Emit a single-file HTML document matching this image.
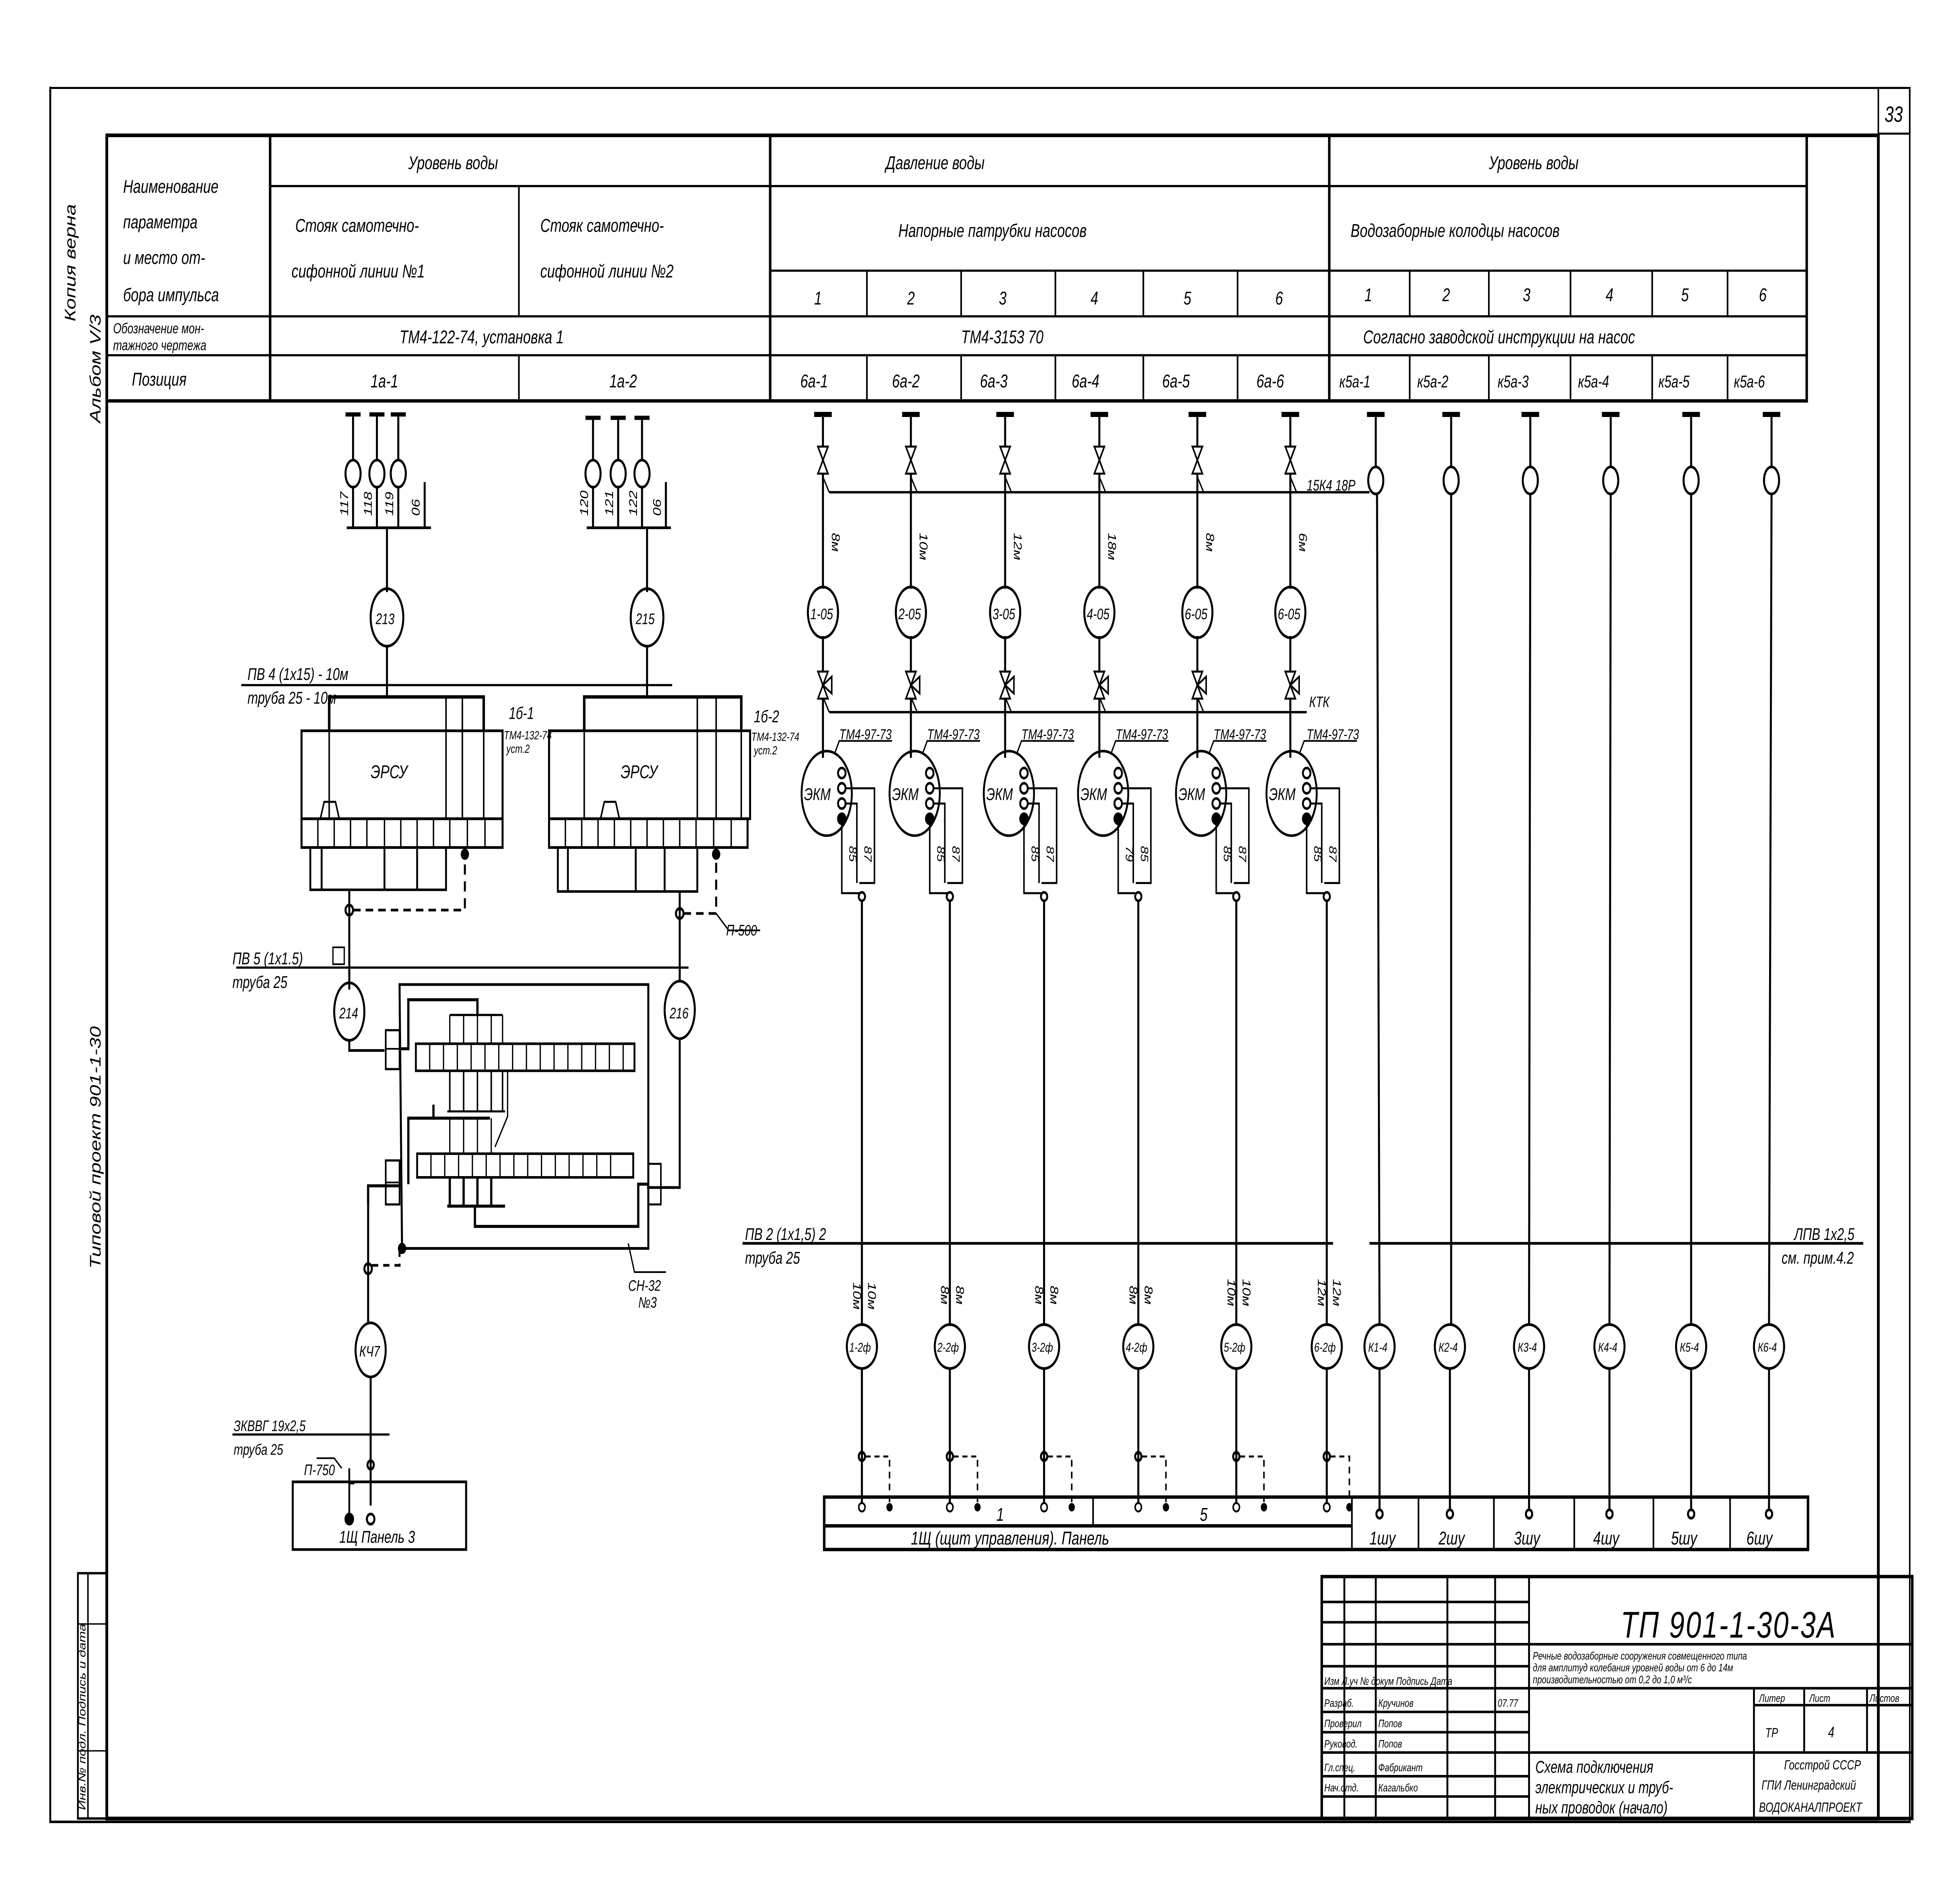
<!DOCTYPE html>
<html><head><meta charset="utf-8">
<style>
html,body{margin:0;padding:0;background:#fff;width:100%;height:100%;overflow:hidden;}
svg{display:block;position:fixed;left:0;top:0;width:100vw;height:100vh;}
text{font-family:"Liberation Sans","DejaVu Sans",sans-serif;font-style:italic;fill:#000;}
</style></head>
<body>
<svg viewBox="0 0 1560 1122" preserveAspectRatio="none" xmlns="http://www.w3.org/2000/svg">
<rect x="0" y="0" width="1560" height="1122" fill="#fff"/>
<g stroke="#000" fill="none" stroke-width="1.6" stroke-linecap="square">
<path d="M40 52 L1520 52 L1520 1077" stroke-width="1.2"/>
<path d="M40 52 L40 1077 L1520 1077" stroke-width="1.5"/>
<path d="M85 80 L1495 80 L1495 1075 L85 1075 Z" stroke-width="2.2"/>
<rect x="1495" y="52" width="25" height="27" stroke-width="1.2"/>
<rect x="62" y="930" width="23" height="145" stroke-width="1.4"/>
<line x1="70" y1="930" x2="70" y2="1075" stroke-width="1.2"/>
<line x1="62" y1="960" x2="85" y2="960" stroke-width="0.8"/>
<line x1="62" y1="1035" x2="85" y2="1035" stroke-width="0.8"/>

<path d="M85 237 L1438 237 M1438 80 L1438 237 M215 80 L215 237 M613 80 L613 237 M1058 80 L1058 237" stroke-width="2"/>
<path d="M215 110 L1438 110 M613 160 L1438 160 M85 187 L1438 187 M85 210 L1438 210" stroke-width="1.3"/>
<path d="M413 110 L413 187 M413 210 L413 237" stroke-width="1.3"/>
<path d="M690 160 L690 187 M765 160 L765 187 M840 160 L840 187 M910 160 L910 187 M985 160 L985 187
M690 210 L690 237 M765 210 L765 237 M840 210 L840 237 M910 210 L910 237 M985 210 L985 237
M1122 160 L1122 187 M1185 160 L1185 187 M1250 160 L1250 187 M1315 160 L1315 187 M1375 160 L1375 187
M1122 210 L1122 237 M1185 210 L1185 237 M1250 210 L1250 237 M1315 210 L1315 237 M1375 210 L1375 237" stroke-width="1.3"/>
</g>

<g font-size="11">
<text x="98" y="114">Наименование</text>
<text x="98" y="135">параметра</text>
<text x="98" y="156">и место от-</text>
<text x="98" y="178">бора импульса</text>
<text x="90" y="197" font-size="8.5">Обозначение мон-</text>
<text x="90" y="207" font-size="8.5">тажного чертежа</text>
<text x="105" y="228">Позиция</text>
<text x="325" y="100">Уровень воды</text>
<text x="705" y="100">Давление воды</text>
<text x="1185" y="100">Уровень воды</text>
<text x="235" y="137">Стояк самотечно-</text>
<text x="232" y="164">сифонной линии №1</text>
<text x="430" y="137">Стояк самотечно-</text>
<text x="430" y="164">сифонной линии №2</text>
<text x="715" y="140">Напорные патрубки насосов</text>
<text x="1075" y="140">Водозаборные колодцы насосов</text>
<text x="318" y="203">ТМ4-122-74, установка 1</text>
<text x="765" y="203">ТМ4-3153 70</text>
<text x="1085" y="203">Согласно заводской инструкции на насос</text>
<text x="295" y="229">1а-1</text>
<text x="485" y="229">1а-2</text>
<text x="637" y="229">6а-1</text><text x="710" y="229">6а-2</text><text x="780" y="229">6а-3</text><text x="853" y="229">6а-4</text><text x="925" y="229">6а-5</text><text x="1000" y="229">6а-6</text>
<text x="1066" y="229" font-size="10">к5а-1</text><text x="1128" y="229" font-size="10">к5а-2</text><text x="1192" y="229" font-size="10">к5а-3</text><text x="1256" y="229" font-size="10">к5а-4</text><text x="1320" y="229" font-size="10">к5а-5</text><text x="1380" y="229" font-size="10">к5а-6</text>
<text x="648" y="180">1</text><text x="722" y="180">2</text><text x="795" y="180">3</text><text x="868" y="180">4</text><text x="942" y="180">5</text><text x="1015" y="180">6</text>
<text x="1086" y="178">1</text><text x="1148" y="178">2</text><text x="1212" y="178">3</text><text x="1278" y="178">4</text><text x="1338" y="178">5</text><text x="1400" y="178">6</text>
<text x="1500" y="72" font-size="13" font-style="normal">33</text>
</g>
<g font-size="12">
<text transform="translate(60,190) rotate(-90)">Копия верна</text>
<text transform="translate(80,250) rotate(-90)">Альбом  V/3</text>
<text transform="translate(80,750) rotate(-90)">Типовой проект   901-1-30</text>
<text transform="translate(68,1070) rotate(-90)" font-size="8">Инв.№ подл.  Подпись и дата</text>
</g>

<g stroke="#000" fill="none" stroke-width="1.6">
<path d="M275 245 L287 245 M294 245 L306 245 M311 245 L323 245" stroke-width="2.5"/>
<path d="M281 245 L281 272 M300 245 L300 272 M317 245 L317 272"/>
<ellipse cx="281" cy="280" rx="6" ry="8"/><ellipse cx="300" cy="280" rx="6" ry="8"/><ellipse cx="317" cy="280" rx="6" ry="8"/>
<path d="M281 288 L281 312 M300 288 L300 312 M317 288 L317 312 M338 285 L338 312 M276 312 L343 312 M308 312 L308 350"/>
<ellipse cx="308" cy="365" rx="13" ry="17"/>
<path d="M308 382 L308 413"/>
<path d="M466 247 L478 247 M486 247 L498 247 M505 247 L517 247" stroke-width="2.5"/>
<path d="M472 247 L472 272 M492 247 L492 272 M511 247 L511 272"/>
<ellipse cx="472" cy="280" rx="6" ry="8"/><ellipse cx="492" cy="280" rx="6" ry="8"/><ellipse cx="511" cy="280" rx="6" ry="8"/>
<path d="M472 288 L472 312 M492 288 L492 312 M511 288 L511 312 M530 285 L530 312 M467 312 L534 312 M515 312 L515 350"/>
<ellipse cx="515" cy="365" rx="13" ry="17"/>
<path d="M515 382 L515 413"/>
<path d="M192 405 L535 405" stroke-width="1.3"/>
<path d="M262 432 L262 412 L385 412 L385 432" stroke-width="2"/>
<path d="M355 412 L355 432 M368 412 L368 432" stroke-width="1.2"/>
<rect x="240" y="432" width="160" height="52" stroke-width="1.6"/>
<path d="M262 432 L262 484 M355 432 L355 484 M368 432 L368 484 M385 432 L385 484" stroke-width="1.2"/>
<path d="M255 484 L258 474 L267 474 L270 484" stroke-width="1.2"/>
<rect x="240" y="484" width="160" height="17" stroke-width="1.6"/>
<path d="M253 484 L253 501 M266 484 L266 501 M279 484 L279 501 M292 484 L292 501 M306 484 L306 501 M319 484 L319 501 M332 484 L332 501 M345 484 L345 501 M358 484 L358 501 M372 484 L372 501 M386 484 L386 501" stroke-width="1.1"/>
<path d="M247 501 L247 526 L355 526 L355 501 M256 501 L256 526 M306 501 L306 526 M332 501 L332 526" stroke-width="1.5"/>
<path d="M278 526 L278 585" stroke-width="1.6"/>
<circle cx="278" cy="538" r="3"/>
<path d="M281 538 L370 538 L370 503" stroke-dasharray="6 4"/>
<circle cx="370" cy="505" r="2.5" fill="#000"/>
<path d="M465 432 L465 412 L590 412 L590 432" stroke-width="2"/>
<path d="M555 412 L555 432 M570 412 L570 432" stroke-width="1.2"/>
<rect x="437" y="432" width="160" height="52" stroke-width="1.6"/>
<path d="M465 432 L465 484 M555 432 L555 484 M570 432 L570 484 M590 432 L590 484" stroke-width="1.2"/>
<path d="M478 484 L481 474 L490 474 L493 484" stroke-width="1.2"/>
<rect x="437" y="484" width="158" height="17" stroke-width="1.6"/>
<path d="M450 484 L450 501 M463 484 L463 501 M476 484 L476 501 M489 484 L489 501 M502 484 L502 501 M515 484 L515 501 M528 484 L528 501 M541 484 L541 501 M554 484 L554 501 M568 484 L568 501 M582 484 L582 501" stroke-width="1.1"/>
<path d="M444 501 L444 527 L555 527 L555 501 M452 501 L452 527 M506 501 L506 527 M529 501 L529 527" stroke-width="1.5"/>
<path d="M541 527 L541 580" stroke-width="1.6"/>
<circle cx="541" cy="540" r="3"/>
<path d="M544 540 L570 540 L570 503" stroke-dasharray="6 4"/>
<circle cx="570" cy="505" r="2.5" fill="#000"/>
<path d="M570 540 L580 550 L605 550" stroke-width="1"/>
<path d="M188 572 L548 572" stroke-width="1.3"/>
<rect x="265" y="560" width="9" height="10" stroke-width="1"/>
<path d="M278 572 L278 580"/>
<ellipse cx="278" cy="598" rx="12" ry="17"/>
<path d="M278 615 L278 621 L306 621"/>
<ellipse cx="541" cy="597" rx="12" ry="17"/>
<path d="M541 614 L541 702 L515 702"/>
<path d="M318 582 L516 582 L516 738 L320 738 Z" stroke-width="1.6"/>
<rect x="307" y="609" width="11" height="23" stroke-width="1.3"/>
<line x1="307" y1="620" x2="318" y2="620" stroke-width="1"/>
<rect x="307" y="686" width="11" height="26" stroke-width="1.3"/>
<line x1="307" y1="699" x2="318" y2="699" stroke-width="1"/>
<path d="M318 620 L325 620 L325 591 L380 591 L380 600" stroke-width="1.8"/>
<path d="M358 600 L400 600" stroke-width="1.3"/>
<rect x="331" y="617" width="174" height="16" stroke-width="1.5"/>
<path d="M342 617 L342 633 M353 617 L353 633 M364 617 L364 633 M375 617 L375 633 M386 617 L386 633 M397 617 L397 633 M408 617 L408 633 M419 617 L419 633 M430 617 L430 633 M441 617 L441 633 M452 617 L452 633 M463 617 L463 633 M474 617 L474 633 M485 617 L485 633 M496 617 L496 633" stroke-width="1"/>
<path d="M358 600 L358 617 M369 600 L369 617 M380 600 L380 617 M391 600 L391 617 M400 600 L400 617" stroke-width="1"/>
<path d="M358 633 L358 657 M369 633 L369 657 M380 633 L380 657 M391 633 L391 657 M400 633 L400 657 M356 657 L402 657" stroke-width="1.2"/>
<path d="M325 700 L325 661 L345 661 L345 653 M345 661 L390 661" stroke-width="1.8"/>
<path d="M358 661 L358 682 M369 661 L369 682 M380 661 L380 682 M391 661 L391 682" stroke-width="1"/>
<rect x="332" y="682" width="172" height="14" stroke-width="1.5"/>
<path d="M343 682 L343 696 M354 682 L354 696 M365 682 L365 696 M376 682 L376 696 M387 682 L387 696 M398 682 L398 696 M409 682 L409 696 M420 682 L420 696 M431 682 L431 696 M442 682 L442 696 M453 682 L453 696 M464 682 L464 696 M475 682 L475 696 M486 682 L486 696" stroke-width="1"/>
<path d="M358 696 L358 713 M369 696 L369 713 M380 696 L380 713 M391 696 L391 713 M356 713 L402 713 M378 713 L378 725 L508 725 L508 700 L516 700" stroke-width="1.8"/>
<rect x="516" y="688" width="10" height="24" stroke-width="1.2"/>
<path d="M404 633 L404 660 L394 678" stroke-width="1"/>
<path d="M293 712 L293 701 L318 701" stroke-width="1.8"/>
<path d="M293 701 L293 782" stroke-width="1.6"/>
<circle cx="293" cy="750" r="3"/>
<path d="M296 748 L318 748 L318 738" stroke-dasharray="5 4"/>
<circle cx="320" cy="738" r="2.5" fill="#000"/>
<path d="M500 735 L505 752 L530 752" stroke-width="1"/>
<ellipse cx="295" cy="798" rx="12" ry="16"/>
<path d="M295 814 L295 890" stroke-width="1.6"/>
<path d="M185 848 L310 848" stroke-width="1.3"/>
<path d="M252 862 L266 862 L272 868" stroke-width="1"/>
<path d="M278 868 L278 877 M278 877 L284 877" stroke-dasharray="4 3" stroke-width="1"/>
<circle cx="295" cy="866" r="2.5"/>
<rect x="233" y="876" width="138" height="40" stroke-width="1.6"/>
<line x1="278" y1="868" x2="278" y2="896" stroke-width="1.4"/>
<circle cx="278" cy="898" r="3" fill="#000"/>
<circle cx="295" cy="898" r="3"/>
</g>
<g font-size="9">
<text transform="translate(277,305) rotate(-90)">117</text>
<text transform="translate(296,305) rotate(-90)">118</text>
<text transform="translate(313,305) rotate(-90)">119</text>
<text transform="translate(334,305) rotate(-90)">06</text>
<text transform="translate(468,305) rotate(-90)">120</text>
<text transform="translate(488,305) rotate(-90)">121</text>
<text transform="translate(507,305) rotate(-90)">122</text>
<text transform="translate(526,305) rotate(-90)">06</text>
<text x="299" y="369">213</text>
<text x="506" y="369">215</text>
<text x="270" y="602">214</text>
<text x="533" y="602">216</text>
<text x="286" y="802">КЧ7</text>
<text x="197" y="402" font-size="10">ПВ 4 (1х15) - 10м</text>
<text x="197" y="416" font-size="10">труба 25   - 10м</text>
<text x="295" y="460" font-size="11">ЭРСУ</text>
<text x="494" y="460" font-size="11">ЭРСУ</text>
<text x="405" y="425" font-size="10">1б-1</text>
<text x="401" y="437" font-size="7">ТМ4-132-74</text>
<text x="403" y="445" font-size="7">уст.2</text>
<text x="600" y="427" font-size="10">1б-2</text>
<text x="598" y="438" font-size="7">ТМ4-132-74</text>
<text x="600" y="446" font-size="7">уст.2</text>
<text x="185" y="570" font-size="10">ПВ 5 (1х1.5)</text>
<text x="185" y="584" font-size="10">труба 25</text>
<text x="578" y="553" font-size="9">П-500</text>
<text x="500" y="763" font-size="9">СН-32</text>
<text x="508" y="773" font-size="9">№3</text>
<text x="186" y="846" font-size="9">ЗКВВГ  19х2,5</text>
<text x="186" y="860" font-size="9">труба 25</text>
<text x="242" y="872" font-size="9">П-750</text>
<text x="270" y="912" font-size="10">1Щ  Панель 3</text>
</g>

<g stroke="#000" fill="none" stroke-width="1.6">
<path d="M648 245 L662 245 M718 245 L732 245 M793 245 L807 245 M868 245 L882 245 M946 245 L960 245 M1020 245 L1034 245 M1088 245 L1102 245 M1148 245 L1162 245 M1211 245 L1225 245 M1275 245 L1289 245 M1339 245 L1353 245 M1403 245 L1417 245" stroke-width="3"/>
<path d="M655 245 L655 348 M725 245 L725 348 M800 245 L800 348 M875 245 L875 348 M953 245 L953 348 M1027 245 L1027 348"/>
<path d="M655 376 L655 448 M725 376 L725 448 M800 376 L800 448 M875 376 L875 448 M953 376 L953 448 M1027 376 L1027 448"/>
<path d="M660 291 L1090 291 M660 421 L1040 421" stroke-width="1.4"/>
<path d="M655 282 L660 291 M725 282 L730 291 M800 282 L805 291 M875 282 L880 291 M953 282 L958 291 M1027 282 L1032 291
M655 412 L660 421 M725 412 L730 421 M800 412 L805 421 M875 412 L880 421 M953 412 L958 421 M1027 412 L1027 421" stroke-width="1"/>
</g>
<g fill="#fff" stroke="#000" stroke-width="1.2">
<path d="M651 264 L659 264 L655 272 Z M651 280 L659 280 L655 272 Z"/>
<path d="M721 264 L729 264 L725 272 Z M721 280 L729 280 L725 272 Z"/>
<path d="M796 264 L804 264 L800 272 Z M796 280 L804 280 L800 272 Z"/>
<path d="M871 264 L879 264 L875 272 Z M871 280 L879 280 L875 272 Z"/>
<path d="M949 264 L957 264 L953 272 Z M949 280 L957 280 L953 272 Z"/>
<path d="M1023 264 L1031 264 L1027 272 Z M1023 280 L1031 280 L1027 272 Z"/>
<path d="M651 397 L659 397 L655 405 Z M651 413 L659 413 L655 405 Z M655 405 L662 400 L662 410 Z"/>
<path d="M721 397 L729 397 L725 405 Z M721 413 L729 413 L725 405 Z M725 405 L732 400 L732 410 Z"/>
<path d="M796 397 L804 397 L800 405 Z M796 413 L804 413 L800 405 Z M800 405 L807 400 L807 410 Z"/>
<path d="M871 397 L879 397 L875 405 Z M871 413 L879 413 L875 405 Z M875 405 L882 400 L882 410 Z"/>
<path d="M949 397 L957 397 L953 405 Z M949 413 L957 413 L953 405 Z M953 405 L960 400 L960 410 Z"/>
<path d="M1023 397 L1031 397 L1027 405 Z M1023 413 L1031 413 L1027 405 Z M1027 405 L1034 400 L1034 410 Z"/>
</g>
<g stroke="#000" fill="none" stroke-width="1.6">
<ellipse cx="655" cy="362" rx="12" ry="15"/><ellipse cx="725" cy="362" rx="12" ry="15"/><ellipse cx="800" cy="362" rx="12" ry="15"/><ellipse cx="875" cy="362" rx="12" ry="15"/><ellipse cx="953" cy="362" rx="12" ry="15"/><ellipse cx="1027" cy="362" rx="12" ry="15"/>
</g>
<g font-size="9">
<text x="645" y="366">1-05</text><text x="715" y="366">2-05</text><text x="790" y="366">3-05</text><text x="865" y="366">4-05</text><text x="943" y="366">6-05</text><text x="1017" y="366">6-05</text>
<text transform="translate(662,315) rotate(90)">8м</text>
<text transform="translate(732,315) rotate(90)">10м</text>
<text transform="translate(807,315) rotate(90)">12м</text>
<text transform="translate(882,315) rotate(90)">18м</text>
<text transform="translate(960,315) rotate(90)">8м</text>
<text transform="translate(1034,315) rotate(90)">6м</text>
<text x="1040" y="290">15К4 18Р</text>
<text x="1042" y="418">КТК</text>
</g>
<g id="ekm" stroke="#000" fill="none" stroke-width="1.5">
<ellipse cx="658" cy="469" rx="20" ry="25"/>
<circle cx="670" cy="457" r="3"/><circle cx="670" cy="466" r="3"/><circle cx="670" cy="475" r="3"/><circle cx="670" cy="484" r="3" fill="#000"/>
<path d="M673 466 L696 466 L696 522 L684 522 M673 475 L682 475 L682 522 M670 487 L670 528 L684 528" stroke-width="1.2"/>
<circle cx="686" cy="530" r="2.5"/>
<path d="M664 446 L668 438 L710 438" stroke-width="1"/>
</g>
<use href="#ekm" transform="translate(70,0)"/>
<use href="#ekm" transform="translate(145,0)"/>
<use href="#ekm" transform="translate(220,0)"/>
<use href="#ekm" transform="translate(298,0)"/>
<use href="#ekm" transform="translate(370,0)"/>
<g font-size="10">
<text x="640" y="473">ЭКМ</text><text x="710" y="473">ЭКМ</text><text x="785" y="473">ЭКМ</text><text x="860" y="473">ЭКМ</text><text x="938" y="473">ЭКМ</text><text x="1010" y="473">ЭКМ</text>
</g>
<g font-size="8.5">
<text x="668" y="437">ТМ4-97-73</text><text x="738" y="437">ТМ4-97-73</text><text x="813" y="437">ТМ4-97-73</text><text x="888" y="437">ТМ4-97-73</text><text x="966" y="437">ТМ4-97-73</text><text x="1040" y="437">ТМ4-97-73</text>
<text transform="translate(676,500) rotate(90)">85</text><text transform="translate(688,500) rotate(90)">87</text>
<text transform="translate(746,500) rotate(90)">85</text><text transform="translate(758,500) rotate(90)">87</text>
<text transform="translate(821,500) rotate(90)">85</text><text transform="translate(833,500) rotate(90)">87</text>
<text transform="translate(896,500) rotate(90)">79</text><text transform="translate(908,500) rotate(90)">85</text>
<text transform="translate(974,500) rotate(90)">85</text><text transform="translate(986,500) rotate(90)">87</text>
<text transform="translate(1046,500) rotate(90)">85</text><text transform="translate(1058,500) rotate(90)">87</text>
</g>

<g stroke="#000" fill="none" stroke-width="1.6">
<path d="M1095 245 L1095 276 M1155 245 L1155 276 M1218 245 L1218 276 M1282 245 L1282 276 M1346 245 L1346 276 M1410 245 L1410 276"/>
<ellipse cx="1095" cy="284" rx="6" ry="8"/><ellipse cx="1155" cy="284" rx="6" ry="8"/><ellipse cx="1218" cy="284" rx="6" ry="8"/><ellipse cx="1282" cy="284" rx="6" ry="8"/><ellipse cx="1346" cy="284" rx="6" ry="8"/><ellipse cx="1410" cy="284" rx="6" ry="8"/>
<path d="M1096 292 L1098 783 M1155 292 L1155 783 M1218 292 L1217 783 M1282 292 L1281 783 M1346 292 L1346 783 M1410 292 L1408 783"/>
<path d="M1098 809 L1098 892 M1154 809 L1154 892 M1217 809 L1217 892 M1281 809 L1281 892 M1346 809 L1346 892 M1408 809 L1408 892"/>
<circle cx="1098" cy="895" r="2.5"/><circle cx="1154" cy="895" r="2.5"/><circle cx="1217" cy="895" r="2.5"/><circle cx="1281" cy="895" r="2.5"/><circle cx="1346" cy="895" r="2.5"/><circle cx="1408" cy="895" r="2.5"/>
<ellipse cx="1098" cy="796" rx="12" ry="13"/><ellipse cx="1154" cy="796" rx="12" ry="13"/><ellipse cx="1217" cy="796" rx="12" ry="13"/><ellipse cx="1281" cy="796" rx="12" ry="13"/><ellipse cx="1346" cy="796" rx="12" ry="13"/><ellipse cx="1408" cy="796" rx="12" ry="13"/>
<path d="M686 533 L686 783 M756 533 L756 783 M831 533 L831 783 M906 533 L906 783 M984 533 L984 783 M1056 533 L1056 783"/>
<ellipse cx="686" cy="796" rx="12" ry="13"/><ellipse cx="756" cy="796" rx="12" ry="13"/><ellipse cx="831" cy="796" rx="12" ry="13"/><ellipse cx="906" cy="796" rx="12" ry="13"/><ellipse cx="984" cy="796" rx="12" ry="13"/><ellipse cx="1056" cy="796" rx="12" ry="13"/>
<path d="M686 809 L686 888 M756 809 L756 888 M831 809 L831 888 M906 809 L906 888 M984 809 L984 888 M1056 809 L1056 888"/>
<circle cx="686" cy="861" r="2.5"/><circle cx="756" cy="861" r="2.5"/><circle cx="831" cy="861" r="2.5"/><circle cx="906" cy="861" r="2.5"/><circle cx="984" cy="861" r="2.5"/><circle cx="1056" cy="861" r="2.5"/>
<path d="M689 861 L708 861 L708 888 M759 861 L778 861 L778 888 M834 861 L853 861 L853 888 M909 861 L928 861 L928 888 M987 861 L1006 861 L1006 888 M1059 861 L1074 861 L1074 888" stroke-dasharray="4 3" stroke-width="1.2"/>
<path d="M591 735 L1061 735 M1090 735 L1483 735" stroke-width="1.6"/>
<rect x="656" y="885" width="783" height="31" stroke-width="2"/>
<path d="M656 902 L1076 902" stroke-width="2"/>
<path d="M870 885 L870 902 M1076 885 L1076 916 M1129 885 L1129 916 M1189 885 L1189 916 M1253 885 L1253 916 M1316 885 L1316 916 M1377 885 L1377 916" stroke-width="1.3"/>
</g>
<g>
<circle cx="686" cy="891" r="2.5" fill="#fff" stroke="#000" stroke-width="1.2"/><circle cx="708" cy="891" r="2.5"/>
<circle cx="756" cy="891" r="2.5" fill="#fff" stroke="#000" stroke-width="1.2"/><circle cx="778" cy="891" r="2.5"/>
<circle cx="831" cy="891" r="2.5" fill="#fff" stroke="#000" stroke-width="1.2"/><circle cx="853" cy="891" r="2.5"/>
<circle cx="906" cy="891" r="2.5" fill="#fff" stroke="#000" stroke-width="1.2"/><circle cx="928" cy="891" r="2.5"/>
<circle cx="984" cy="891" r="2.5" fill="#fff" stroke="#000" stroke-width="1.2"/><circle cx="1006" cy="891" r="2.5"/>
<circle cx="1056" cy="891" r="2.5" fill="#fff" stroke="#000" stroke-width="1.2"/><circle cx="1074" cy="891" r="2.5"/>
</g>
<g font-size="7.5">
<text x="676" y="799">1-2ф</text><text x="746" y="799">2-2ф</text><text x="821" y="799">3-2ф</text><text x="896" y="799">4-2ф</text><text x="974" y="799">5-2ф</text><text x="1046" y="799">6-2ф</text>
<text x="1089" y="799">К1-4</text><text x="1145" y="799">К2-4</text><text x="1208" y="799">К3-4</text><text x="1272" y="799">К4-4</text><text x="1337" y="799">К5-4</text><text x="1399" y="799">К6-4</text>
</g>
<g font-size="9">
<text transform="translate(679,758) rotate(90)">10м</text><text transform="translate(691,758) rotate(90)">10м</text>
<text transform="translate(749,760) rotate(90)">8м</text><text transform="translate(761,760) rotate(90)">8м</text>
<text transform="translate(824,760) rotate(90)">8м</text><text transform="translate(836,760) rotate(90)">8м</text>
<text transform="translate(899,760) rotate(90)">8м</text><text transform="translate(911,760) rotate(90)">8м</text>
<text transform="translate(977,756) rotate(90)">10м</text><text transform="translate(989,756) rotate(90)">10м</text>
<text transform="translate(1049,756) rotate(90)">12м</text><text transform="translate(1061,756) rotate(90)">12м</text>
<text x="593" y="733" font-size="10">ПВ 2 (1х1,5) 2</text>
<text x="593" y="747" font-size="10">труба 25</text>
<text x="1428" y="733" font-size="10">ЛПВ 1х2,5</text>
<text x="1418" y="747" font-size="10">см. прим.4.2</text>
<text x="793" y="899" font-size="11">1</text>
<text x="955" y="899" font-size="11">5</text>
<text x="725" y="913" font-size="11">1Щ (щит управления). Панель</text>
<text x="1090" y="913" font-size="11">1шу</text><text x="1145" y="913" font-size="11">2шу</text><text x="1205" y="913" font-size="11">3шу</text><text x="1268" y="913" font-size="11">4шу</text><text x="1330" y="913" font-size="11">5шу</text><text x="1390" y="913" font-size="11">6шу</text>
</g>

<g stroke="#000" fill="none" stroke-width="1.5">
<rect x="1052" y="932" width="470" height="143" stroke-width="2"/>
<path d="M1070 932 L1070 1075 M1095 932 L1095 1075 M1152 932 L1152 1075 M1190 932 L1190 1075 M1217 932 L1217 1075"/>
<path d="M1052 947 L1217 947 M1052 959 L1217 959 M1052 972 L1522 972 M1052 985 L1217 985 M1052 998 L1522 998 M1052 1012 L1217 1012 M1052 1024 L1217 1024 M1052 1036 L1522 1036 M1052 1050 L1217 1050 M1052 1062 L1217 1062"/>
<path d="M1396 998 L1396 1075 M1436 998 L1436 1036 M1486 998 L1486 1036 M1396 1008 L1522 1008"/>
</g>
<g>
<text x="1290" y="968" font-size="22" font-style="normal" letter-spacing="1">ТП 901-1-30-3А</text>
<text x="1220" y="981" font-size="6.5">Речные водозаборные сооружения совмещенного типа</text>
<text x="1220" y="988" font-size="6.5">для амплитуд колебания уровней воды от 6 до 14м</text>
<text x="1220" y="995" font-size="6.5">производительностью  от 0,2 до 1,0 м³/с</text>
<text x="1054" y="996" font-size="6.5">Изм Л.уч  № докум  Подпись Дата</text>
<text x="1054" y="1009" font-size="6.5">Разраб.</text><text x="1097" y="1009" font-size="6.5">Кручинов</text><text x="1192" y="1009" font-size="6.5">07.77</text>
<text x="1054" y="1021" font-size="6.5">Проверил</text><text x="1097" y="1021" font-size="6.5">Попов</text>
<text x="1054" y="1033" font-size="6.5">Руковод.</text><text x="1097" y="1033" font-size="6.5">Попов</text>
<text x="1054" y="1047" font-size="6.5">Гл.спец.</text><text x="1097" y="1047" font-size="6.5">Фабрикант</text>
<text x="1054" y="1059" font-size="6.5">Нач.отд.</text><text x="1097" y="1059" font-size="6.5">Кагальбко</text>
<text x="1400" y="1006" font-size="6.5">Литер</text><text x="1440" y="1006" font-size="6.5">Лист</text><text x="1488" y="1006" font-size="6.5">Листов</text>
<text x="1405" y="1027" font-size="8">ТР</text><text x="1455" y="1027" font-size="9">4</text>
<text x="1222" y="1048" font-size="10">Схема подключения</text>
<text x="1222" y="1060" font-size="10">электрических и труб-</text>
<text x="1222" y="1072" font-size="10">ных проводок (начало)</text>
<text x="1420" y="1046" font-size="8">Госстрой СССР</text>
<text x="1402" y="1058" font-size="8">ГПИ Ленинградский</text>
<text x="1400" y="1071" font-size="8">ВОДОКАНАЛПРОЕКТ</text>
</g>
</svg>
</body></html>
